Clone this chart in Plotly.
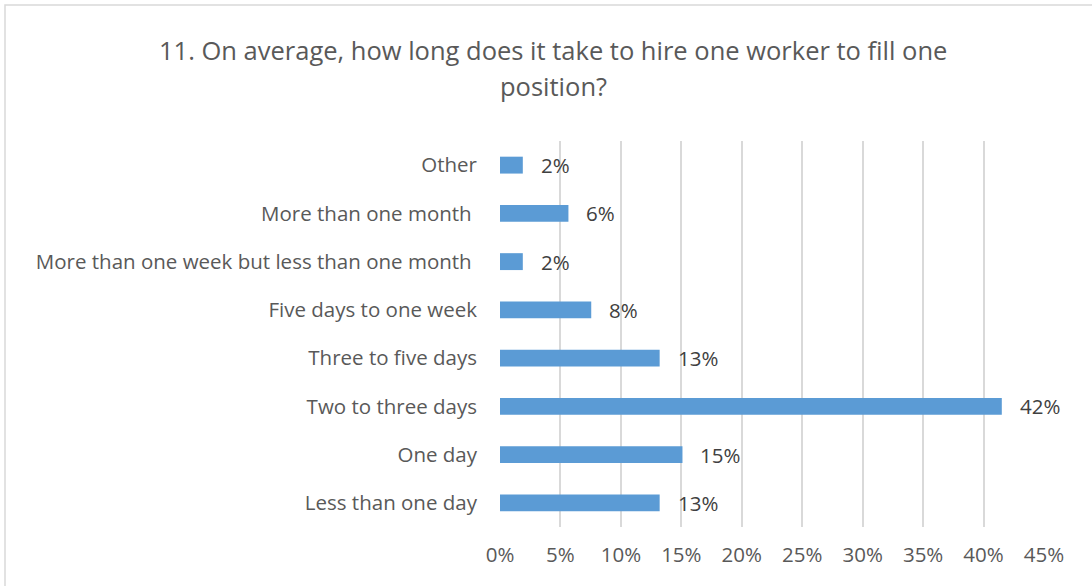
import plotly.graph_objects as go

# Survey responses (n = 53), listed bottom to top
categories = [
    "Less than one day",
    "One day",
    "Two to three days",
    "Three to five days",
    "Five days to one week",
    "More than one week but less than one month\u00a0",
    "More than one month\u00a0",
    "Other",
]
counts = [7, 8, 22, 7, 4, 1, 3, 1]
total = 53
shares = [c / total for c in counts]

tick_vals = [i * 0.05 for i in range(10)]
tick_text = [f"{i * 5}%" for i in range(10)]

title_lines = [
    "11. On average, how long does it take to hire one worker to fill one",
    "position?",
]

BAR = "#5b9bd5"
TEXT = "#595959"
FONT = "Open Sans"
TICK_SIZE = 20.5
TITLE_SIZE = 25.5

W, H = 1092, 586
L, R, T, B = 500, 48, 141, 59
pw, ph = W - L - R, H - T - B


def px_x(p):
    return (p - L) / pw


def px_y(p):
    return (H - B - p) / ph


fig = go.Figure(
    go.Bar(
        x=shares,
        y=categories,
        orientation="h",
        marker=dict(color=BAR, line=dict(width=0)),
        width=0.35,
        hoverinfo="skip",
    )
)

# value labels to the right of each bar
for cat, val in zip(categories, shares):
    fig.add_annotation(
        x=val, y=cat, xref="x", yref="y",
        text=f"{val * 100:.0f}%", showarrow=False,
        xanchor="left", xshift=16,
        font=dict(family=FONT, size=TICK_SIZE, color="#404040"),
    )

# two-line chart title
for line, ypx in zip(title_lines, [50, 86]):
    fig.add_annotation(
        x=px_x(553), y=px_y(ypx), xref="paper", yref="paper",
        xanchor="center", yanchor="middle",
        text=line, showarrow=False,
        font=dict(family=FONT, size=TITLE_SIZE, color=TEXT),
    )

# chart frame
fig.add_shape(
    type="rect", xref="paper", yref="paper",
    x0=px_x(5), x1=px_x(1100), y0=px_y(5), y1=px_y(600),
    line=dict(color="#d9d9d9", width=1.5), fillcolor="rgba(0,0,0,0)",
    layer="below",
)

fig.update_layout(
    width=W, height=H,
    margin=dict(l=L, r=R, t=T, b=B, autoexpand=False),
    paper_bgcolor="white", plot_bgcolor="white",
    showlegend=False,
    font=dict(family=FONT, color=TEXT, size=TICK_SIZE),
    xaxis=dict(
        range=[0, 0.45], tickvals=tick_vals, ticktext=tick_text,
        showgrid=True, gridcolor="#d9d9d9", gridwidth=1.5,
        zeroline=False, showline=False, ticks="",
        tickfont=dict(family=FONT, size=TICK_SIZE, color=TEXT),
        ticklabelstandoff=13, fixedrange=True,
    ),
    yaxis=dict(
        categoryorder="array", categoryarray=categories,
        showgrid=False, zeroline=False, showline=False, ticks="",
        tickfont=dict(family=FONT, size=TICK_SIZE, color=TEXT),
        ticklabelstandoff=22, fixedrange=True,
    ),
)

fig.write_html("out.html")
